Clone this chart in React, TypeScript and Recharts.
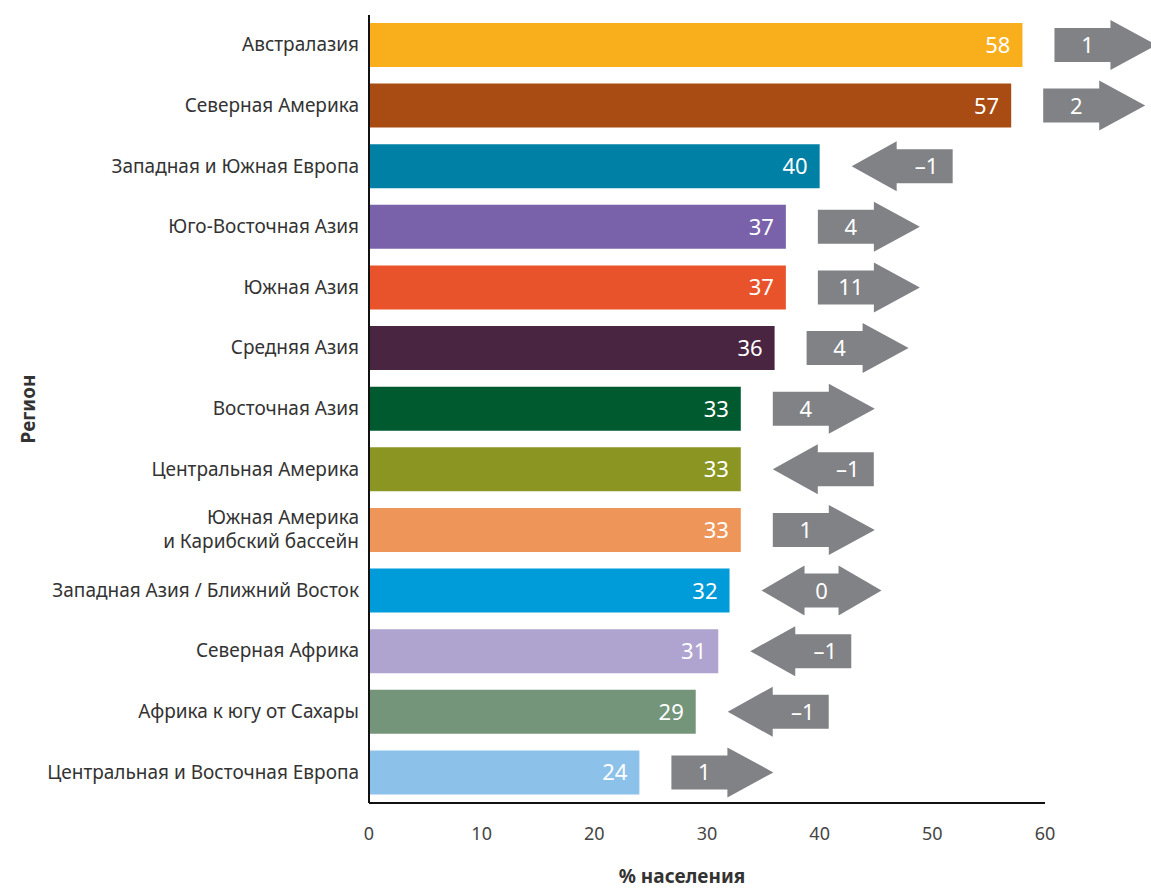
import { BarChart, Bar, XAxis, YAxis, Cell, LabelList } from "recharts"

const regions = [
  "Австралазия",
  "Северная Америка",
  "Западная и Южная Европа",
  "Юго-Восточная Азия",
  "Южная Азия",
  "Средняя Азия",
  "Восточная Азия",
  "Центральная Америка",
  "Южная Америка\nи Карибский бассейн",
  "Западная Азия / Ближний Восток",
  "Северная Африка",
  "Африка к югу от Сахары",
  "Центральная и Восточная Европа",
]

const shares = [58, 57, 40, 37, 37, 36, 33, 33, 33, 32, 31, 29, 24]

const changes = [1, 2, -1, 4, 11, 4, 4, -1, 1, 0, -1, -1, 1]

const COLORS = [
  "#F9AE1B",
  "#A84C14",
  "#0080A4",
  "#7A62AA",
  "#E8532B",
  "#4A2542",
  "#005A30",
  "#8A9621",
  "#EE9659",
  "#009BD9",
  "#AFA3CF",
  "#74957A",
  "#8CC2E9",
]

const xTicks = [0, 10, 20, 30, 40, 50, 60]

const data = regions.map((region, i) => ({ region, share: shares[i], change: changes[i] }))

const FONT = "'Noto Sans', 'Open Sans', sans-serif"
const ARROW = "#808285"

// two-line labels are split on \n
const RegionTick = ({ x, y, payload }: any) => {
  const lines = String(payload.value).split("\n")
  const start = -((lines.length - 1) * 24) / 2
  return (
    <text x={x} y={y} textAnchor="end" fill="#333" fontSize={19} fontFamily={FONT}>
      {lines.map((l, i) => (
        <tspan key={i} x={x} dy={i === 0 ? start + 6 : 24}>
          {l}
        </tspan>
      ))}
    </text>
  )
}

const BarLabel = (props: any) => {
  const { x, y, width, height, index, value } = props
  const end = x + width
  const cy = y + height / 2
  const change = changes[index]
  const x0 = end + 32
  let path = ""
  let tx = 0
  if (change > 0) {
    path = `M${x0},${cy - 17} L${x0 + 56},${cy - 17} L${x0 + 56},${cy - 25} L${x0 + 102},${cy} L${x0 + 56},${cy + 25} L${x0 + 56},${cy + 17} L${x0},${cy + 17} Z`
    tx = x0 + 33
  } else if (change < 0) {
    path = `M${x0},${cy} L${x0 + 45},${cy - 25} L${x0 + 45},${cy - 17} L${x0 + 101},${cy - 17} L${x0 + 101},${cy + 17} L${x0 + 45},${cy + 17} L${x0 + 45},${cy + 25} Z`
    tx = x0 + 75
  } else {
    path = `M${x0},${cy} L${x0 + 43},${cy - 25} L${x0 + 43},${cy - 17} L${x0 + 77},${cy - 17} L${x0 + 77},${cy - 25} L${x0 + 120},${cy} L${x0 + 77},${cy + 25} L${x0 + 77},${cy + 17} L${x0 + 43},${cy + 17} L${x0 + 43},${cy + 25} Z`
    tx = x0 + 60
  }
  const label = change < 0 ? `–${Math.abs(change)}` : String(change)
  return (
    <g fontFamily={FONT}>
      <text x={end - 12} y={cy + 8} textAnchor="end" fill="#fff" fontSize={22}>
        {value}
      </text>
      <path d={path} fill={ARROW} />
      <text x={tx} y={cy + 8} textAnchor="middle" fill="#fff" fontSize={22}>
        {label}
      </text>
    </g>
  )
}

export default function App() {
  return (
    <div style={{ position: "absolute", left: 0, top: 0, background: "#fff" }}>
      <BarChart
        width={1151}
        height={888}
        data={data}
        layout="vertical"
        margin={{ top: 15, right: 106, bottom: 55, left: 0 }}
        barSize={44}
      >
        <XAxis
          type="number"
          domain={[0, 60]}
          ticks={xTicks}
          height={30}
          tickLine={false}
          axisLine={{ stroke: "#111", strokeWidth: 2 }}
          tick={{ fill: "#444", fontSize: 18, fontFamily: FONT }}
          tickMargin={18}
          label={{
            value: "% населения",
            position: "bottom",
            offset: 37,
            dx: -25,
            style: { fill: "#333", fontSize: 19, fontWeight: 700, fontFamily: FONT },
          }}
        />
        <YAxis
          type="category"
          dataKey="region"
          width={369}
          tickLine={false}
          axisLine={{ stroke: "#111", strokeWidth: 2 }}
          tick={<RegionTick />}
          tickMargin={4}
          interval={0}
          label={{
            value: "Регион",
            angle: -90,
            position: "insideLeft",
            offset: 28,
            style: { fill: "#333", fontSize: 19, fontWeight: 700, fontFamily: FONT, textAnchor: "middle" },
          }}
        />
        <Bar dataKey="share" isAnimationActive={false}>
          {data.map((d, i) => (
            <Cell key={i} fill={COLORS[i]} />
          ))}
          <LabelList dataKey="share" content={<BarLabel />} />
        </Bar>
      </BarChart>
    </div>
  )
}
